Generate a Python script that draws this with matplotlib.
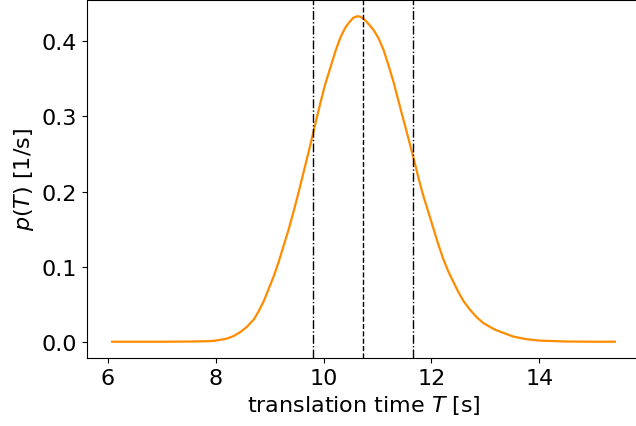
import numpy as np
import matplotlib
matplotlib.use("Agg")
import matplotlib.pyplot as plt

# ===================== data =====================
T_s = [6.08, 6.5, 7.0, 7.5, 7.9, 8.0, 8.2, 8.33, 8.46, 8.58, 8.71, 8.80,
       8.89, 8.98, 9.08, 9.17, 9.26, 9.35, 9.45, 9.54, 9.63, 9.72, 9.81,
       9.94, 10.03, 10.13, 10.22, 10.31, 10.40, 10.47, 10.55, 10.62, 10.68,
       10.74, 10.80, 10.86, 10.93, 11.02, 11.11, 11.20, 11.30, 11.42, 11.55,
       11.67, 11.76, 11.85, 11.95, 12.04, 12.13, 12.22, 12.31, 12.41, 12.50,
       12.59, 12.71, 12.84, 12.96, 13.09, 13.18, 13.27, 13.40, 13.52, 13.75,
       14.0, 14.5, 15.0, 15.40]
p_T = [0.0, 0.0, 0.0, 0.0002, 0.0008, 0.0015, 0.004, 0.0075, 0.013, 0.020,
       0.030, 0.041, 0.054, 0.070, 0.088, 0.107, 0.128, 0.149, 0.175, 0.200,
       0.226, 0.252, 0.279, 0.318, 0.343, 0.366, 0.387, 0.405, 0.418, 0.425,
       0.4315, 0.4335, 0.433, 0.430, 0.426, 0.421, 0.415, 0.404, 0.389, 0.369,
       0.345, 0.312, 0.277, 0.244, 0.218, 0.194, 0.171, 0.150, 0.129, 0.110,
       0.094, 0.079, 0.066, 0.0545, 0.043, 0.0325, 0.025, 0.0195, 0.016,
       0.0135, 0.0100, 0.0068, 0.0035, 0.0015, 0.0003, 0.0, 0.0]
T_mean = 10.73
T_lo = 9.80
T_hi = 11.66

FONT = 16

fig = plt.figure(figsize=(6.36, 4.27), dpi=100)
ax = fig.add_axes([87 / 636, 68 / 427, 553 / 636, 358 / 427])

ax.plot(T_s, p_T, color="darkorange", lw=1.6)
ax.axvline(T_mean, color="black", ls="--", lw=1.0)
ax.axvline(T_lo, color="black", ls="-.", lw=1.0)
ax.axvline(T_hi, color="black", ls="-.", lw=1.0)

ax.set_xlabel("translation time $T$ [s]", fontsize=FONT)
ax.set_ylabel("$p(T)$ [1/s]", fontsize=FONT)
ax.tick_params(labelsize=FONT)
ax.set_xticks([6, 8, 10, 12, 14])
ax.set_yticks([0.0, 0.1, 0.2, 0.3, 0.4])

fig.savefig("out.png", dpi=100)
